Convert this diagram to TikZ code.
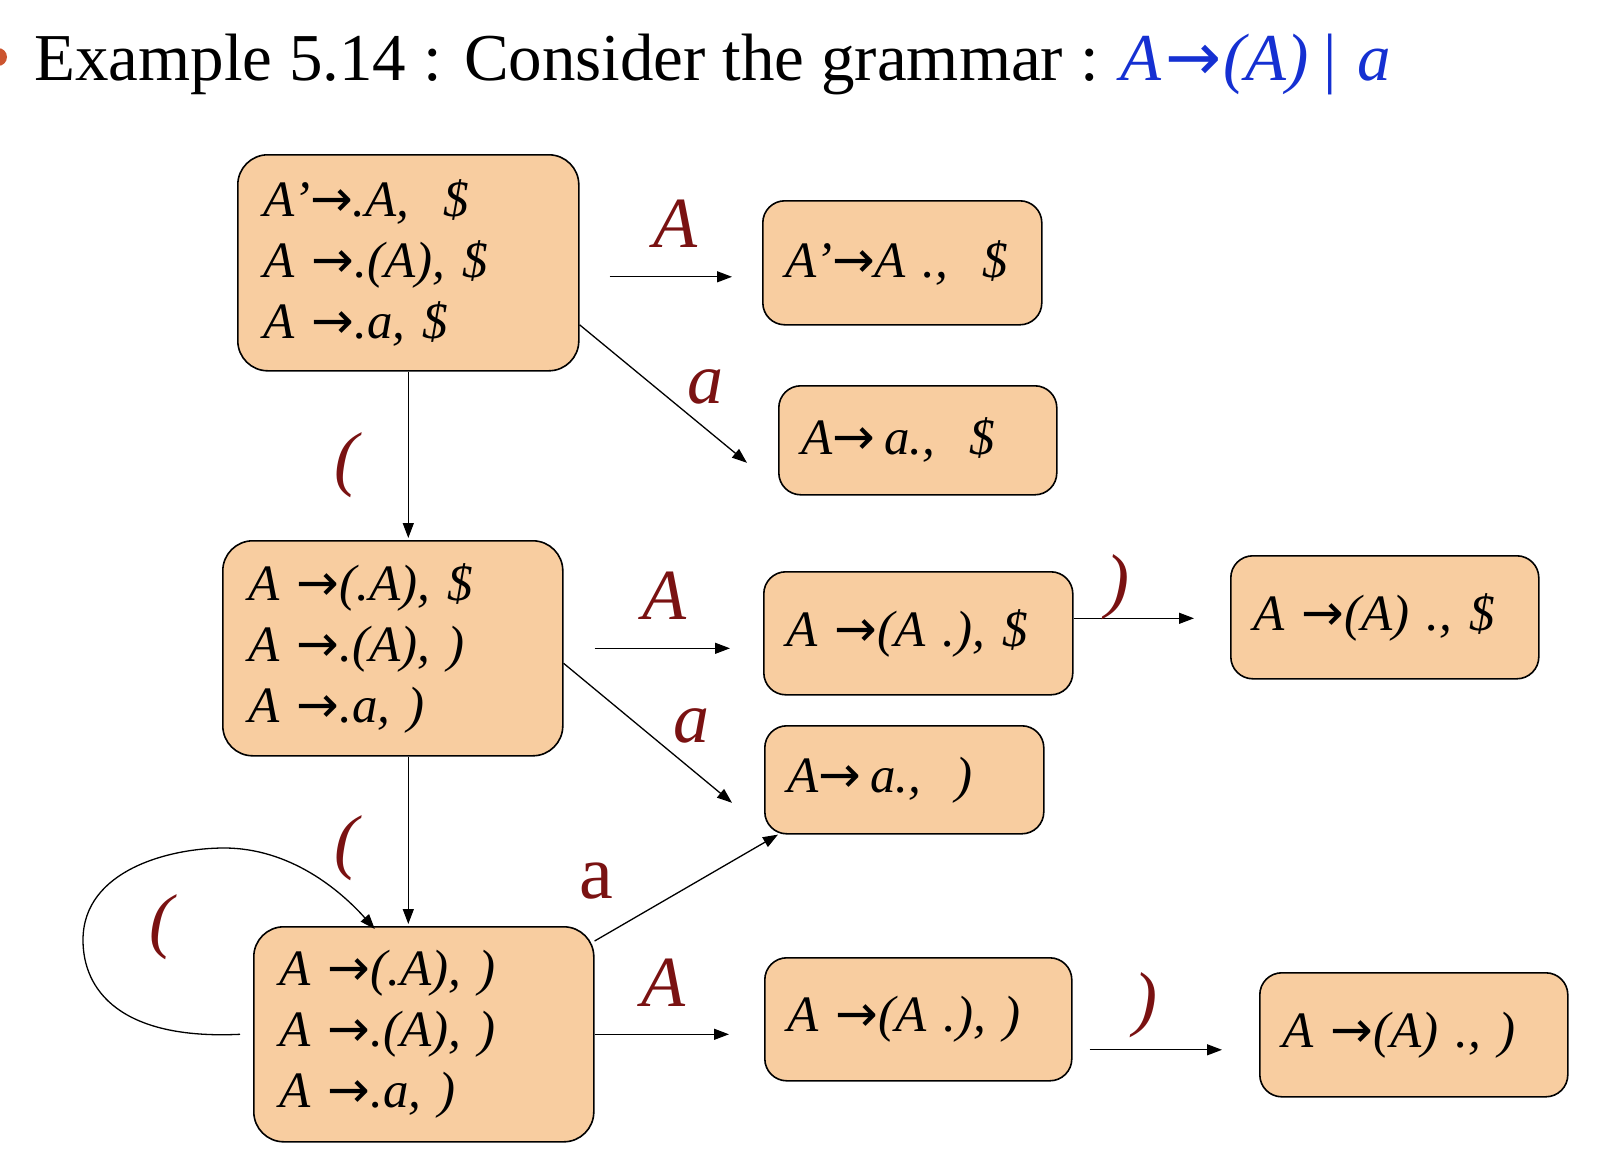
\documentclass[tikz,border=0pt]{standalone}
\usepackage{fontspec}
\setmainfont{Liberation Serif}
\newfontfamily\arrfont{DejaVu Sans}
\usetikzlibrary{arrows.meta}
\definecolor{peach}{HTML}{F8CDA0}
\definecolor{lblred}{HTML}{7A1212}
\definecolor{ttlblue}{HTML}{1530D2}
\definecolor{bullet}{HTML}{CC5530}
\newcommand{\myarr}{{\arrfont\upshape →}}
\begin{document}
\begin{tikzpicture}[x=1pt,y=-1pt,
  box/.style={draw=black, line width=1.6pt, fill=peach, anchor=north west,
    inner xsep=26pt, inner ysep=0pt, align=left,
    font=\fontsize{51}{61}\selectfont\itshape},
  bigbox/.style={box, rounded corners=30pt},
  smallbox/.style={box, rounded corners=22pt, inner xsep=23pt},
  arr/.style={line width=1.3pt, -{Triangle[length=15pt,width=11pt]}},
  lbl/.style={text=lblred, anchor=base, inner sep=0pt, font=\fontsize{72}{72}\selectfont\itshape},
  lblup/.style={text=lblred, anchor=base, inner sep=0pt, font=\fontsize{76}{76}\selectfont},
  title/.style={anchor=base west, inner sep=0pt, font=\fontsize{67}{67}\selectfont}
]
\useasboundingbox (0,0) rectangle (1598,1164);
% title
\fill[bullet] (-2,57) circle (9);
\node[title] (ttl) at (34,81) {Example 5.14 : Consider the grammar : \textcolor{ttlblue}{\itshape A\hspace{0.05em}\myarr\hspace{0.03em}(A)\hspace{0.22em}\textup{|}\hspace{0.3em}a}};

% boxes
\node[bigbox, minimum width=341pt, minimum height=216pt, text width=289pt] (I0) at (237,154)
  {A’\myarr.A,~~\$\\A \myarr.(A), \$\\A \myarr.a, \$};
\node[smallbox, minimum width=279pt, minimum height=124pt, text width=233pt] (I1) at (762,200)
  {A’\myarr A .,~~\$};
\node[smallbox, minimum width=278pt, minimum height=109pt, text width=232pt] (I2) at (778,385)
  {A\myarr\,a.,~~\$};
\node[bigbox, minimum width=340pt, minimum height=215pt, text width=288pt] (I3) at (222,540)
  {A \myarr(.A), \$\\A \myarr.(A), )\\A \myarr.a, )};
\node[smallbox, minimum width=309pt, minimum height=123pt, text width=263pt] (I4) at (763,571)
  {A \myarr(A .), \$};
\node[smallbox, minimum width=308pt, minimum height=123pt, text width=262pt] (I5) at (1230,555)
  {A \myarr(A) ., \$};
\node[smallbox, minimum width=279pt, minimum height=108pt, text width=233pt] (I6) at (764,725)
  {A\myarr\,a.,~~)};
\node[bigbox, minimum width=340pt, minimum height=215pt, text width=288pt] (I7) at (253,926)
  {A \myarr(.A), )\\A \myarr.(A), )\\A \myarr.a, )};
\node[smallbox, minimum width=307pt, minimum height=123pt, text width=261pt] (I8) at (764,957)
  {A \myarr(A .), )};
\node[smallbox, minimum width=308pt, minimum height=124pt, text width=262pt] (I9) at (1259,972)
  {A \myarr(A) ., )};

% connectors
\draw[arr, shorten <=30pt, shorten >=30pt] ([yshift=-14pt]I0.east) -- ([yshift=-14pt]I1.west);
\draw[arr] ([yshift=-62pt]I0.east) -- ([xshift=-31pt,yshift=-22.5pt]I2.west);
\draw[arr, shorten >=2pt] (I0.south) -- (I0.south |- I3.north);
\draw[arr, shorten <=31pt, shorten >=33pt] (I3.east) -- (I3.east -| I4.west);
\draw[arr] ([yshift=-15pt]I3.east) -- ([xshift=-32pt,yshift=-23pt]I6.west);
\draw[arr, shorten >=36pt] ([yshift=15pt]I4.east) -- ([yshift=15pt]I4.east -| I5.west);
\draw[arr, shorten >=2pt] (I0.south |- I3.south) -- (I0.south |- I7.north);
\draw[arr] ([yshift=-15pt]I7.north east) -- ([xshift=14pt]I6.south west);
\draw[arr, shorten >=35pt] (I7.east) -- (I7.east -| I8.west);
\draw[arr, shorten <=17pt, shorten >=37pt] ([yshift=-30.5pt]I8.east) -- ([yshift=-30.5pt]I8.east -| I9.west);
\draw[arr] ([xshift=-13pt]I7.west) .. controls (120,1040) and (83,990) .. (83,940)
  .. controls (83,870) and (170,848) .. (224,848)
  .. controls (290,848) and (340,890) .. ([xshift=-49pt,yshift=-3pt]I7.north);

% labels
\node[lbl] (lA1) at (675,247) {A};
\node[lbl] (la1) at (705,403) {a};
\node[lbl] (lp1) at (346,482) {(};
\node[lbl] (lA2) at (664,619) {A};
\node[lbl] (la2) at (691,742) {a};
\node[lbl] (lr1) at (1117,604) {)};
\node[lbl] (lp2) at (346,865) {(};
\node[lbl] (lp3) at (161,944) {(};
\node[lblup] (la3) at (596,898) {a};
\node[lbl] (lA3) at (663,1006) {A};
\node[lbl] (lr2) at (1145,1022) {)};
\end{tikzpicture}
\end{document}
